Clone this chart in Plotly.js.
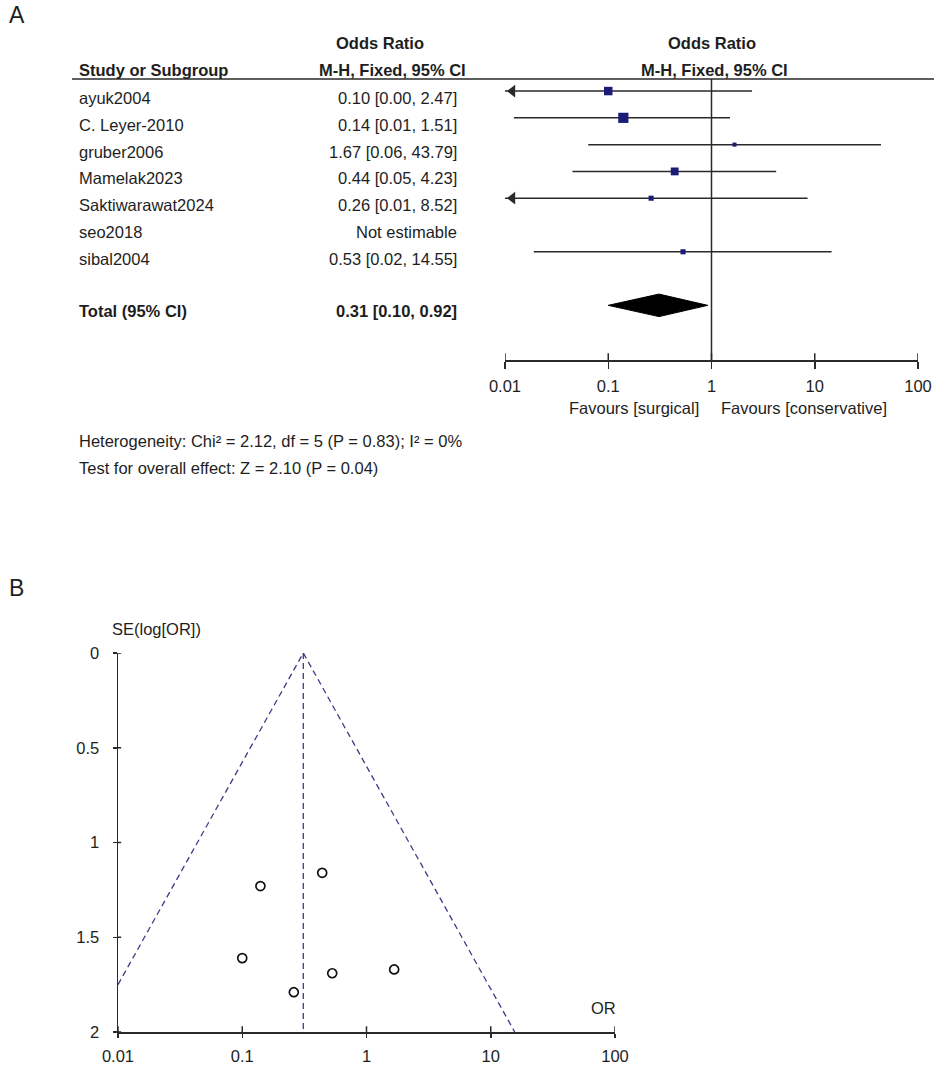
<!DOCTYPE html>
<html><head><meta charset="utf-8">
<script src="https://cdn.plot.ly/plotly-3.0.1.min.js"></script>
<style>html,body{margin:0;padding:0;background:#fff}#chart{width:942px;height:1067px}</style>
</head><body><div id="chart"></div>
<script>
// ---------- data ----------
const studies = ["ayuk2004","C. Leyer-2010","gruber2006","Mamelak2023","Saktiwarawat2024","seo2018","sibal2004"];
const orLabels = ["0.10 [0.00, 2.47]","0.14 [0.01, 1.51]","1.67 [0.06, 43.79]","0.44 [0.05, 4.23]","0.26 [0.01, 8.52]","Not estimable","0.53 [0.02, 14.55]"];
const orValues = [0.10, 0.14, 1.67, 0.44, 0.26, null, 0.53];
const ciLower  = [0.0043, 0.0122, 0.064, 0.045, 0.0076, null, 0.019];
const ciUpper  = [2.47, 1.51, 43.79, 4.23, 8.52, null, 14.55];
const weights  = [23.5, 34.0, 5.4, 20.1, 8.5, null, 8.5];
const totalName = "Total (95% CI)";
const totalLabel = "0.31 [0.10, 0.92]";
const totalOR = 0.31, totalLower = 0.10, totalUpper = 0.92;
const heterogeneityText = "Heterogeneity: Chi² = 2.12, df = 5 (P = 0.83); I² = 0%";
const overallText = "Test for overall effect: Z = 2.10 (P = 0.04)";
const favoursLeft = "Favours [surgical]";
const favoursRight = "Favours [conservative]";

const funnelOR = [0.10, 0.14, 1.67, 0.44, 0.26, 0.53];
const funnelSE = [1.61, 1.23, 1.67, 1.16, 1.79, 1.69];
const funnelApex = [0.31, 0];
const funnelLeftEnd = [0.01, 1.75];
const funnelRightEnd = [15.6, 2];

const logTicks = [0.01, 0.1, 1, 10, 100];
const logTickText = ["0.01", "0.1", "1", "10", "100"];
const seTicks = [0, 0.5, 1, 1.5, 2];
const seTickText = ["0", "0.5", "1", "1.5", "2"];

// ---------- layout helpers ----------
const W = 942, H = 1067;
const px = x => x / W;
const py = y => 1 - y / H;
const FONT = "Liberation Sans, Arial, sans-serif";
const FS = 16.5;
const TXT = "#1e1e1e";
const LINE = "#2a2a2a";
const BLUE = "#1c1c78";

const rowTop = -0.45, rowBottom = 10.04, totalRow = 8;

const traces = [];
// CI lines
const ciX = [], ciY = [], arrX = [], arrY = [];
studies.forEach((s, i) => {
  if (orValues[i] == null) return;
  ciX.push(Math.max(ciLower[i], 0.01), ciUpper[i], null);
  ciY.push(i, i, null);
  if (ciLower[i] < 0.01) { arrX.push(0.0118); arrY.push(i); }
});
traces.push({x: ciX, y: ciY, xaxis: 'x', yaxis: 'y', mode: 'lines', line: {color: LINE, width: 1.5}, hoverinfo: 'skip'});
traces.push({x: arrX, y: arrY, xaxis: 'x', yaxis: 'y', mode: 'markers', marker: {symbol: 'triangle-left', size: 11, color: LINE}, hoverinfo: 'skip', cliponaxis: false});
// reference line at OR = 1
traces.push({x: [1, 1], y: [rowTop, rowBottom], xaxis: 'x', yaxis: 'y', mode: 'lines', line: {color: LINE, width: 1.5}, hoverinfo: 'skip'});
// upper part of ticks
const tkX = [], tkY = [];
logTicks.forEach(t => { tkX.push(t, t, null); tkY.push(rowBottom, rowBottom - 0.25, null); });
traces.push({x: tkX, y: tkY, xaxis: 'x', yaxis: 'y', mode: 'lines', line: {color: LINE, width: 1.5}, hoverinfo: 'skip'});
// squares
const sqX = [], sqY = [], sqS = [];
studies.forEach((s, i) => {
  if (orValues[i] == null) return;
  sqX.push(orValues[i]); sqY.push(i); sqS.push(Math.sqrt(weights[i]) * 1.75);
});
traces.push({x: sqX, y: sqY, xaxis: 'x', yaxis: 'y', mode: 'markers', marker: {symbol: 'square', size: sqS, color: BLUE, opacity: 1, line: {width: 0}}, hoverinfo: 'skip'});
// diamond
traces.push({x: [totalLower, totalOR, totalUpper, totalOR, totalLower], y: [totalRow, totalRow - 0.42, totalRow, totalRow + 0.42, totalRow],
  xaxis: 'x', yaxis: 'y', mode: 'lines', fill: 'toself', fillcolor: '#000', line: {color: '#000', width: 1}, hoverinfo: 'skip'});

// funnel
traces.push({x: [funnelLeftEnd[0], funnelApex[0], funnelRightEnd[0]], y: [funnelLeftEnd[1], funnelApex[1], funnelRightEnd[1]],
  xaxis: 'x2', yaxis: 'y2', mode: 'lines', line: {color: '#3b3b8a', width: 1.3, dash: '6px,4px'}, hoverinfo: 'skip'});
traces.push({x: [funnelApex[0], funnelApex[0]], y: [0, 2], xaxis: 'x2', yaxis: 'y2', mode: 'lines', line: {color: '#3b3b8a', width: 1.3, dash: '6px,4px'}, hoverinfo: 'skip'});
traces.push({x: funnelOR, y: funnelSE, xaxis: 'x2', yaxis: 'y2', mode: 'markers', marker: {symbol: 'circle-open', size: 9, color: '#111', line: {width: 1.7, color: '#111'}}, hoverinfo: 'skip'});
// inner tick parts for funnel
const ftX = [], ftY = [];
logTicks.forEach(t => { ftX.push(t, t, null); ftY.push(2, 1.97, null); });
traces.push({x: ftX, y: ftY, xaxis: 'x2', yaxis: 'y2', mode: 'lines', line: {color: LINE, width: 1.5}, hoverinfo: 'skip'});
const fyX = [], fyY = [];
seTicks.forEach(t => { fyX.push(0.01, 0.0106, null); fyY.push(t, t, null); });
traces.push({x: fyX, y: fyY, xaxis: 'x2', yaxis: 'y2', mode: 'lines', line: {color: LINE, width: 1.5}, hoverinfo: 'skip'});

// ---------- annotations ----------
const ann = [];
const txt = (text, x, y, opts = {}) => ann.push(Object.assign({text, x, y, xref: 'paper', yref: 'paper', showarrow: false,
  xanchor: 'left', yanchor: 'middle', font: {family: FONT, size: FS, color: TXT}}, opts));
txt("A", px(7), py(15), {font: {family: FONT, size: 23, color: TXT}});
txt("B", px(7), py(588), {font: {family: FONT, size: 23, color: TXT}});
txt("<b>Odds Ratio</b>", px(380), py(43), {xanchor: 'center'});
txt("<b>M-H, Fixed, 95% CI</b>", px(392), py(70), {xanchor: 'center'});
txt("<b>Odds Ratio</b>", px(712), py(43), {xanchor: 'center'});
txt("<b>M-H, Fixed, 95% CI</b>", px(714), py(70), {xanchor: 'center'});
txt("<b>Study or Subgroup</b>", px(77), py(70));
studies.forEach((s, i) => {
  ann.push({text: s, x: px(77), y: i, xref: 'paper', yref: 'y', yshift: -7, showarrow: false, xanchor: 'left', yanchor: 'middle', font: {family: FONT, size: FS, color: TXT}});
  ann.push({text: orLabels[i], x: px(459), y: i, xref: 'paper', yref: 'y', yshift: -7, showarrow: false, xanchor: 'right', yanchor: 'middle', font: {family: FONT, size: FS, color: TXT}});
});
ann.push({text: "<b>" + totalName + "</b>", x: px(77), y: totalRow, xref: 'paper', yref: 'y', yshift: -6, showarrow: false, xanchor: 'left', yanchor: 'middle', font: {family: FONT, size: FS, color: TXT}});
ann.push({text: "<b>" + totalLabel + "</b>", x: px(459), y: totalRow, xref: 'paper', yref: 'y', yshift: -6, showarrow: false, xanchor: 'right', yanchor: 'middle', font: {family: FONT, size: FS, color: TXT}});
txt(favoursLeft, px(701), py(408), {xanchor: 'right'});
txt(favoursRight, px(719), py(408));
txt(heterogeneityText, px(77), py(441));
txt(overallText, px(77), py(468));
txt("SE(log[OR])", px(156), py(629), {xanchor: 'center'});
txt("OR", px(603), py(1008), {xanchor: 'center'});

const layout = {
  width: W, height: H, margin: {l: 0, r: 0, t: 0, b: 0},
  paper_bgcolor: '#fff', plot_bgcolor: 'rgba(0,0,0,0)', showlegend: false,
  font: {family: FONT, size: FS, color: TXT},
  xaxis: {type: 'log', range: [-2, 2], domain: [px(505), px(918)], anchor: 'y', showgrid: false, zeroline: false,
    showline: true, linecolor: LINE, linewidth: 1.5, ticks: 'outside', ticklen: 7, tickwidth: 1.5, tickcolor: LINE,
    tickvals: logTicks, ticktext: logTickText, tickfont: {family: FONT, size: FS, color: TXT}, ticklabelstandoff: 4, fixedrange: true},
  yaxis: {range: [rowBottom, rowTop], domain: [py(360), py(79)], anchor: 'x', visible: false, fixedrange: true},
  xaxis2: {type: 'log', range: [-2, 2], domain: [px(118), px(615)], anchor: 'y2', showgrid: false, zeroline: false,
    showline: true, linecolor: LINE, linewidth: 1.5, ticks: 'outside', ticklen: 4, tickwidth: 1.5, tickcolor: LINE,
    tickvals: logTicks, ticktext: logTickText, tickfont: {family: FONT, size: FS, color: TXT}, ticklabelstandoff: 5, fixedrange: true},
  yaxis2: {range: [2, 0], domain: [py(1032), py(653)], anchor: 'x2', showgrid: false, zeroline: false,
    showline: true, linecolor: LINE, linewidth: 1.5, ticks: 'outside', ticklen: 4, tickwidth: 1.5, tickcolor: LINE,
    tickvals: seTicks, ticktext: seTickText, tickfont: {family: FONT, size: FS, color: TXT}, ticklabelstandoff: 10, fixedrange: true},
  shapes: [
    {type: 'line', xref: 'paper', yref: 'paper', x0: px(72), x1: px(934), y0: py(79), y1: py(79), line: {color: LINE, width: 1.5}}
  ],
  annotations: ann
};

Plotly.newPlot('chart', traces, layout, {displayModeBar: false, staticPlot: true});
</script>
</body></html>
